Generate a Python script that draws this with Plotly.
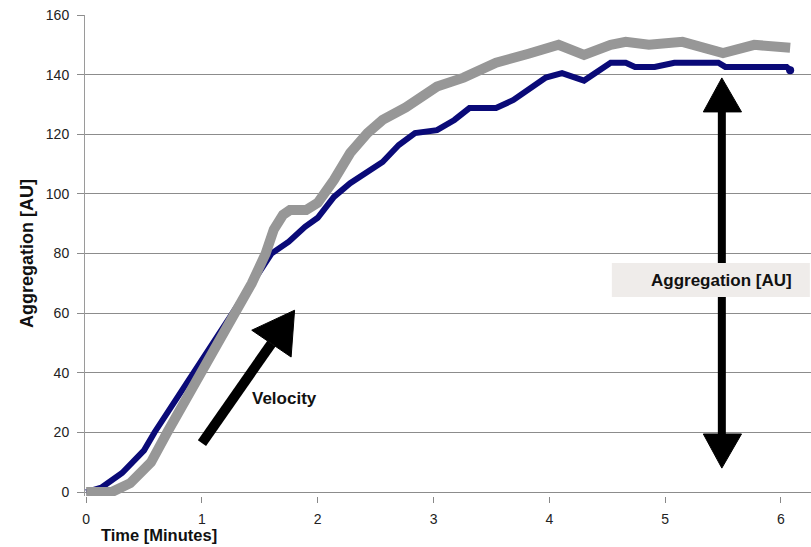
import plotly.graph_objects as go

# ---- data ----
blue_x = [0, 0.05, 0.13, 0.31, 0.50, 0.59, 0.76, 0.93, 1.10, 1.26, 1.43, 1.60, 1.75, 1.89, 2.0,
          2.14, 2.28, 2.43, 2.56, 2.70, 2.84, 3.03, 3.18, 3.31, 3.54, 3.69, 3.82, 3.97, 4.11,
          4.30, 4.53, 4.66, 4.74, 4.91, 5.08, 5.46, 5.52, 6.05, 6.08]
blue_y = [0, 0.5, 1.5, 6.4, 14, 20, 30, 40, 50, 60, 70, 80, 84, 89, 92,
          99, 103.6, 107.4, 110.7, 116.4, 120.4, 121.4, 124.8, 128.8, 128.8, 131.5, 135, 139, 140.5,
          138, 144, 144, 142.6, 142.6, 144, 144, 142.6, 142.6, 141.5]

gray_x = [0, 0.22, 0.38, 0.56, 0.70, 0.85, 1.0, 1.15, 1.29, 1.43, 1.55, 1.62, 1.70, 1.76, 1.90,
          2.0, 2.14, 2.28, 2.43, 2.56, 2.76, 3.03, 3.26, 3.54, 3.82, 3.88, 4.08, 4.30, 4.53,
          4.66, 4.86, 5.15, 5.50, 5.77, 6.08]
gray_y = [0, 0, 3, 10, 20, 30, 40, 50, 60, 70, 80, 88, 93, 94.6, 94.6,
          97, 104.7, 113.7, 120.4, 124.8, 129, 136, 139, 144, 147, 147.6, 150, 146.6, 150,
          151, 150, 151, 147.2, 150, 149]

x_ticks = [0, 1, 2, 3, 4, 5, 6]
y_ticks = [0, 20, 40, 60, 80, 100, 120, 140, 160]

BLUE = "#0a0a78"
GRAY = "#979797"
FONT = "Liberation Sans, Arial, sans-serif"

fig = go.Figure()
fig.add_trace(go.Scatter(x=blue_x, y=blue_y, mode="lines",
                         line=dict(color=BLUE, width=6), showlegend=False))
fig.add_trace(go.Scatter(x=[blue_x[-1]], y=[blue_y[-1]], mode="markers",
                         marker=dict(color=BLUE, size=8), showlegend=False))
fig.add_trace(go.Scatter(x=gray_x, y=gray_y, mode="lines",
                         line=dict(color=GRAY, width=10), showlegend=False))

shapes = [
    # velocity arrow shaft
    dict(type="line", x0=1.00, y0=16.4, x1=1.60, y1=49.8,
         line=dict(color="black", width=10)),
    # velocity arrow head
    dict(type="path", path="M 1.80 61.0 L 1.43 54.3 L 1.77 45.3 Z",
         fillcolor="black", line=dict(color="black", width=1)),
    # aggregation double arrow shaft
    dict(type="line", x0=5.49, y0=19.5, x1=5.49, y1=127.5,
         line=dict(color="black", width=8)),
    dict(type="path", path="M 5.49 138.9 L 5.33 127.5 L 5.66 127.5 Z",
         fillcolor="black", line=dict(color="black", width=1)),
    dict(type="path", path="M 5.49 8.05 L 5.33 19.5 L 5.66 19.5 Z",
         fillcolor="black", line=dict(color="black", width=1)),
    # label box
    dict(type="rect", x0=4.54, x1=6.25, y0=65.4, y1=76.8,
         fillcolor="#efecea", line=dict(width=0)),
]

annotations = [
    dict(text="<b>Velocity</b>", x=1.71, y=31.5, xref="x", yref="y", showarrow=False,
         font=dict(family=FONT, size=17, color="#111")),
    dict(text="<b>Aggregation [AU]</b>", x=5.49, y=71.1, xref="x", yref="y", showarrow=False,
         font=dict(family=FONT, size=17, color="#111")),
    dict(text="<b>Time [Minutes]</b>", x=0.63, y=-0.081, xref="x", yref="paper",
         showarrow=False, yanchor="middle", font=dict(family=FONT, size=16.5, color="#111")),
    dict(text="<b>Aggregation [AU]</b>", x=-0.0799, y=0.505, xref="paper", yref="paper",
         showarrow=False, textangle=-90, xanchor="center", yanchor="middle",
         font=dict(family=FONT, size=18, color="#111")),
]

fig.update_layout(
    width=811, height=547,
    margin=dict(l=85, r=0, t=15, b=51),
    paper_bgcolor="white", plot_bgcolor="white",
    shapes=shapes, annotations=annotations,
    font=dict(family=FONT, size=14, color="#222"),
    xaxis=dict(range=[-0.01, 6.26], tickvals=x_ticks, ticktext=[str(v) for v in x_ticks],
               showgrid=False, zeroline=False, showline=False,
               ticks="outside", ticklen=6, tickcolor="#888", tickwidth=1,
               ticklabelstandoff=4, tickfont=dict(size=14, color="#222")),
    yaxis=dict(range=[-1.3, 160], tickvals=y_ticks, ticktext=[str(v) for v in y_ticks],
               showgrid=True, gridcolor="#8c8c8c", gridwidth=1,
               zeroline=True, zerolinecolor="#8c8c8c", zerolinewidth=1,
               showline=True, linecolor="#9a9a9a", linewidth=1,
               ticks="outside", ticklen=7, tickcolor="#8c8c8c", tickwidth=1,
               ticklabelstandoff=5, tickfont=dict(size=14, color="#222")),
)

fig.write_html("out.html")
